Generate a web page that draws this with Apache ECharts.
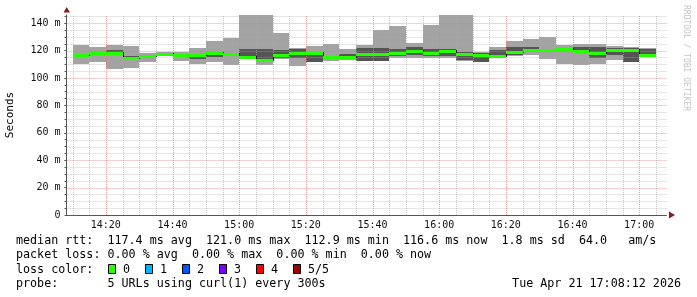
<!DOCTYPE html>
<html><head><meta charset="utf-8">
<script src="https://cdn.jsdelivr.net/npm/echarts@6/dist/echarts.min.js"></script>
<style>html,body{margin:0;padding:0;background:#fff}#c{width:697px;height:297px}</style>
</head><body><div id="c"></div>
<script>
// minutes after 14:00 at which each 5-minute bin starts
const binStart = [10,15,20,25,30,35,40,45,50,55,60,65,70,75,80,85,90,95,100,105,110,115,120,125,130,135,140,145,150,155,160,165,170,175,180];
// values in milliseconds (axis shows "m" = milli-seconds)
const minRtt   = [110.4,111.4,106.8,107.4,111.8,116.2,112.5,110.1,111.8,109.4,114.0,109.6,113.6,108.9,111.4,112.6,113.5,112.3,112.3,114.8,114.8,114.8,114.8,112.3,111.4,114.5,116.2,116.7,113.8,110.1,109.6,110.1,113.1,111.6,115.0];
const maxRtt   = [124.0,122.8,124.0,123.3,118.4,118.7,119.0,121.6,126.9,129.1,150.0,150.0,133.0,122.1,123.3,124.5,121.5,124.2,134.9,138.1,125.7,138.6,150.0,150.0,119.1,122.3,126.9,128.4,129.8,123.8,124.9,124.5,123.3,122.8,121.6];
const innerLo  = [116.0,118.0,118.0,114.0,115.8,117.0,116.3,113.8,115.5,116.5,114.8,113.7,114.8,114.3,111.4,114.2,115.5,112.3,112.3,116.2,116.7,116.2,116.2,113.1,111.8,114.3,116.7,119.1,119.5,120.0,118.0,114.8,116.7,111.8,115.0];
const innerHi  = [117.2,119.2,120.4,116.0,117.0,118.2,117.6,116.2,118.0,118.5,121.1,121.1,120.4,120.9,117.2,115.8,117.7,121.6,121.8,120.9,122.8,121.3,121.0,119.1,118.0,120.4,122.3,122.3,121.5,122.0,122.3,122.5,122.0,122.0,120.9];
const medianRtt= [116.5,118.6,118.5,114.7,116.3,117.6,117.0,117.0,118.6,117.7,115.2,112.9,116.5,118.4,118.0,115.0,115.2,117.2,117.7,118.4,119.6,118.4,119.8,117.3,116.5,116.2,118.7,120.4,120.1,121.0,119.8,118.4,120.6,120.2,116.6];

const xTickValues = [20,40,60,80,100,120,140,160,180];
const xTickLabels = ['14:20','14:40','15:00','15:20','15:40','16:00','16:20','16:40','17:00'];
const xGridValues = [10,15,20,25,30,35,40,45,50,55,60,65,70,75,80,85,90,95,100,105,110,115,120,125,130,135,140,145,150,155,160,165,170,175,180,185];
const yTickValues = [0,20,40,60,80,100,120,140];
const yTickLabels = ['0','20 m','40 m','60 m','80 m','100 m','120 m','140 m'];
const yGridValues = [5,10,15,20,25,30,35,40,45,50,55,60,65,70,75,80,85,90,95,100,105,110,115,120,125,130,135,140,145];

const lossLabels = ['0','1','2','3','4','5/5'];
const lossColors = ['#26ff00','#00b8ff','#0059ff','#7e00ff','#ff0000','#a00000'];
const legendLines = [
  'median rtt:  117.4 ms avg  121.0 ms max  112.9 ms min  116.6 ms now  1.8 ms sd  64.0   am/s',
  'packet loss: 0.00 % avg  0.00 % max  0.00 % min  0.00 % now',
  'loss color:',
  'probe:       5 URLs using curl(1) every 300s'
];
const stampText = 'Tue Apr 21 17:08:12 2026';
const yName = 'Seconds';
const watermark = 'RRDTOOL / TOBI OETIKER';

const X_MIN = 8.2, X_MAX = 188.2, Y_MAX = 146, STEP = 5;
const MONO = 'DejaVu Sans Mono';

const smokeData = binStart.map((t,i)=>[t, minRtt[i], maxRtt[i], innerLo[i], innerHi[i]]);
const medData = binStart.map((t,i)=>[t, medianRtt[i], i>0?medianRtt[i-1]:medianRtt[i]]);
const gridData = xGridValues.map(v=>[v,0]).concat(yGridValues.map(v=>[v,1]));

function rectFor(api, t, a, b, cs){
  const p1 = api.coord([t, b]); const p2 = api.coord([t+STEP, a]);
  const x1=Math.round(p1[0]), x2=Math.round(p2[0]), y1=Math.round(p1[1]), y2=Math.round(p2[1]);
  return echarts.graphic.clipRectByRect({x:x1,y:y1,width:x2-x1,height:y2-y1}, cs);
}

const chart = echarts.init(document.getElementById('c'), null, {renderer:'canvas'});
const graphics = [
  {type:'text', x:10, y:115, rotation:Math.PI/2, style:{text:yName, font:'11px '+MONO, fill:'#000', align:'center', verticalAlign:'middle'}},
  {type:'text', x:686, y:5, rotation:-Math.PI/2, style:{text:watermark, font:'8px '+MONO, fill:'#c4c4c4', align:'left', verticalAlign:'middle'}},
  {type:'polygon', shape:{points:[[669,211.5],[675,215],[669,218.5]]}, style:{fill:'#8b1a1a'}},
  {type:'polygon', shape:{points:[[63.5,12.5],[66.7,7],[70,12.5]]}, style:{fill:'#8b1a1a'}},
  {type:'text', x:681, y:284, style:{text:stampText, font:'11.7px '+MONO, fill:'#000', align:'right', verticalAlign:'middle'}}
];
legendLines.forEach((s,i)=>{
  graphics.push({type:'text', x:16, y:241+i*14.3, style:{text:s, font:'11.7px '+MONO, fill:'#000', align:'left', verticalAlign:'middle'}});
});
lossLabels.forEach((s,i)=>{
  const bx = 108 + i*37;
  graphics.push({type:'rect', shape:{x:bx+0.5, y:264.5, width:7, height:9}, style:{fill:lossColors[i], stroke:'#000', lineWidth:1}});
  graphics.push({type:'text', x:bx+15, y:269.6, style:{text:s, font:'11.7px '+MONO, fill:'#000', align:'left', verticalAlign:'middle'}});
});

chart.setOption({
  animation:false,
  backgroundColor:'#ffffff',
  grid:{left:66.5, right:30.5, top:15, bottom:82, containLabel:false},
  xAxis:{type:'value', min:X_MIN, max:X_MAX, splitLine:{show:false},
    axisLine:{show:true, onZero:false, lineStyle:{color:'#555', width:1}},
    axisTick:{show:false},
    axisLabel:{customValues:xTickValues, formatter:v=>{const k=xTickValues.indexOf(Math.round(v));return k>=0?xTickLabels[k]:'';},
      fontFamily:MONO, fontSize:10, color:'#111', margin:5}},
  yAxis:{type:'value', min:0, max:Y_MAX, splitLine:{show:false},
    axisLine:{show:true, lineStyle:{color:'#555', width:1}},
    axisTick:{show:true, customValues:yTickValues.concat(yGridValues), length:2, lineStyle:{color:'#555'}},
    axisLabel:{customValues:yTickValues, formatter:v=>{const k=yTickValues.indexOf(Math.round(v));return k>=0?yTickLabels[k]:'';},
      fontFamily:MONO, fontSize:10, color:'#111', margin:6}},
  graphic:graphics,
  series:[
    {type:'custom', name:'smoke', z:2, data:smokeData, encode:{x:0,y:[1,2]},
      renderItem:(params, api)=>{
        const t=api.value(0), lo=api.value(1), hi=api.value(2), dlo=api.value(3), dhi=api.value(4);
        const cs=params.coordSys;
        const r1=rectFor(api,t,lo,hi,cs), r2=rectFor(api,t,dlo,dhi,cs);
        const ch=[];
        if(r1) ch.push({type:'rect', shape:r1, style:{fill:'#a3a3a3'}});
        if(r2) ch.push({type:'rect', shape:r2, style:{fill:'#555555'}});
        return {type:'group', children:ch};
      }},
    {type:'custom', name:'grid', z:3, silent:true, data:gridData,
      renderItem:(params, api)=>{
        const v=api.value(0), o=api.value(1);
        const major = v%20===0;
        let shape;
        if(o===0){
          const a=api.coord([v,0]), b=api.coord([v,Y_MAX]);
          const x=Math.round(a[0])+0.5;
          shape={x1:x,y1:a[1],x2:x,y2:b[1]};
        } else {
          const a=api.coord([X_MIN,v]), b=api.coord([X_MAX,v]);
          const y=Math.round(a[1])+0.5;
          shape={x1:a[0]+1,y1:y,x2:b[0],y2:y};
        }
        return {type:'line', shape, style:{stroke: major?'rgba(230,120,120,0.7)':'rgba(170,170,170,0.6)', lineWidth:1, lineDash:[1,1]}};
      }},
    {type:'custom', name:'median', z:4, data:medData, encode:{x:0,y:1},
      renderItem:(params, api)=>{
        const t=api.value(0), m=api.value(1), pm=api.value(2);
        const a=api.coord([t,m]), b=api.coord([t+STEP,m]), c=api.coord([t,pm]);
        const x1=Math.round(a[0]), x2=Math.round(b[0]), y=Math.round(a[1]), yp=Math.round(c[1]);
        return {type:'group', children:[
          {type:'line', shape:{x1:x1+0.5,y1:Math.min(y,yp)-1,x2:x1+0.5,y2:Math.max(y,yp)+1}, style:{stroke:'#000',lineWidth:1}},
          {type:'rect', shape:{x:x1,y:y-1,width:x2-x1,height:3}, style:{fill:'#26ff00'}}
        ]};
      }}
  ]
});
</script></body></html>
